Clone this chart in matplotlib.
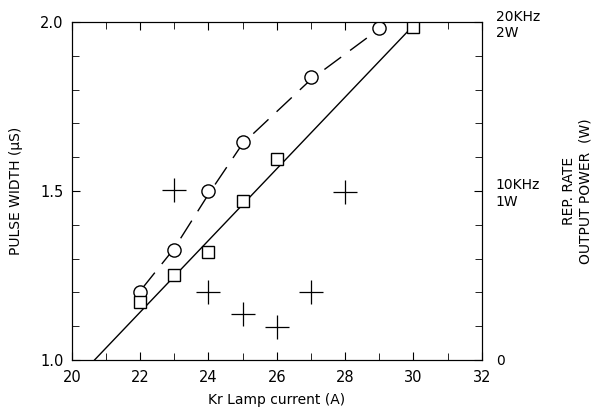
import numpy as np
import matplotlib.pyplot as plt

# Lamp current (A) and the three measured series, all in left-axis units.
circle_x = [22, 23, 24, 25, 27, 29]
circle_y = [1.20, 1.325, 1.50, 1.646, 1.838, 1.983]

square_x = [22, 23, 24, 25, 26, 30]
square_y = [1.17, 1.25, 1.32, 1.471, 1.594, 1.986]

cross_x = [23, 24, 25, 26, 27, 28]
cross_y = [1.503, 1.20, 1.135, 1.097, 1.20, 1.496]

# Fitted lines.
solid_x = [20.67, 30.0]
solid_y = [1.0, 1.99]
dash_x = [22.05, 23, 24, 25, 27, 29]
dash_y = [1.21, 1.33, 1.49, 1.64, 1.83, 1.98]

x_ticks = [20, 22, 24, 26, 28, 30, 32]
y_ticks = [1.0, 1.5, 2.0]
right_labels = ["0", "10KHz\n1W", "20KHz\n2W"]

plt.rcParams["font.family"] = "DejaVu Sans"
fig = plt.figure(figsize=(6.03, 4.08), dpi=100)
ax = fig.add_axes([0.119, 0.118, 0.680, 0.828])

ax.plot(solid_x, solid_y, color="black", lw=1.0)
ax.plot(dash_x, dash_y, color="black", lw=1.0, dashes=(15, 8))
ax.plot(circle_x, circle_y, "o", ms=9.5, mfc="white", mec="black", mew=1.0)
ax.plot(square_x, square_y, "s", ms=9, mfc="white", mec="black", mew=1.0)
ax.plot(cross_x, cross_y, "+", ms=17, color="black", mew=0.9)

ax.set_xlim(20, 32)
ax.set_ylim(1.0, 2.0)
ax.set_xticks(x_ticks)
ax.set_xticks(np.arange(20, 33, 1), minor=True)
ax.set_yticks(y_ticks)
ax.set_yticklabels(["1.0", "1.5", "2.0"])
ax.set_yticks(np.arange(1.0, 2.01, 0.1), minor=True)
ax.tick_params(which="both", direction="in", top=True, labelsize=10.5)
ax.tick_params(axis="x", which="major", pad=7)
ax.tick_params(axis="y", which="major", pad=6)
ax.tick_params(which="major", length=6)
ax.tick_params(which="minor", length=5)
ax.set_xlabel("Kr Lamp current (A)", fontsize=10, labelpad=6)
ax.set_ylabel("PULSE WIDTH (μS)", fontsize=10, labelpad=12)

ax2 = ax.twinx()
ax2.set_ylim(1.0, 2.0)
ax2.set_yticks(y_ticks)
ax2.set_yticklabels(right_labels)
ax2.set_yticks(np.arange(1.0, 2.01, 0.1), minor=True)
ax2.tick_params(which="both", direction="in", labelsize=10)
ax2.tick_params(which="major", length=6, pad=10)
ax2.tick_params(which="minor", length=5)
ax2.set_ylabel("REP. RATE\nOUTPUT POWER  (W)", fontsize=10, labelpad=16)

fig.savefig("out.png", dpi=100)
